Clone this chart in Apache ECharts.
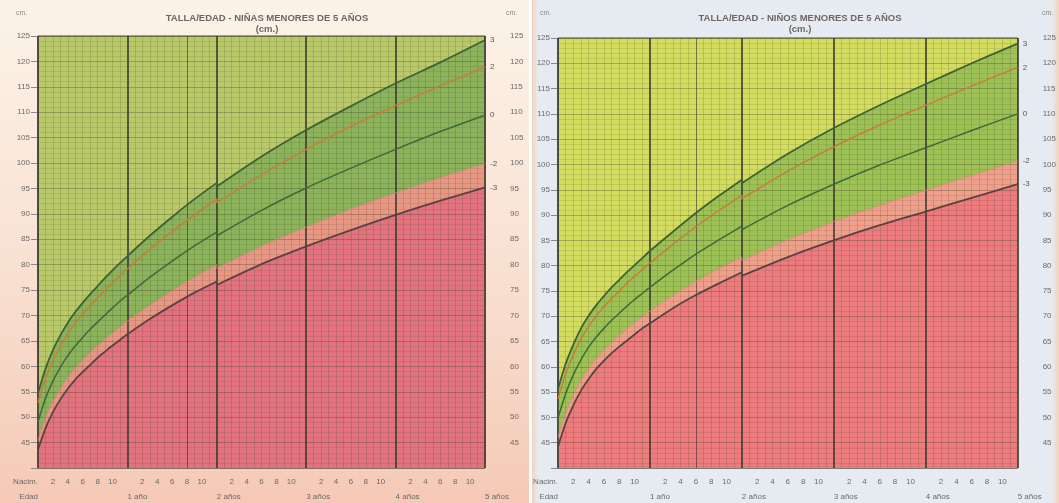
<!DOCTYPE html>
<html>
<head>
<meta charset="utf-8">
<script src="https://cdn.jsdelivr.net/npm/echarts@6/dist/echarts.min.js"></script>
<style>
html,body{margin:0;padding:0;width:1059px;height:503px;overflow:hidden;background:#fff;}
#pL{position:absolute;left:0;top:0;width:529px;height:503px;background:linear-gradient(to bottom,#fcf3e8 0%,#f9e2d3 50%,#f5c9b6 100%);}
#pR{position:absolute;left:532px;top:0;width:527px;height:503px;background:linear-gradient(to right,#f3d3bd 0px,#e6ebf1 6px,#e6ebf1 520px,#f1d2bc 527px);}
#main{position:absolute;left:0;top:0;width:1059px;height:503px;}
</style>
</head>
<body>
<div id="pL"></div><div id="pR"></div>
<div id="main"></div>
<script>
// ---- data (months, SD curves) ----
const months = [0,1,2,3,4,5,6,7,8,9,10,11,12,15,18,21,24,24,30,36,42,48,54,60];

const girlsMinus3 = [43.6,47.8,51.0,53.5,55.6,57.4,58.9,60.3,61.7,62.9,64.1,65.2,66.3,69.3,72.0,74.5,76.7,76.0,80.1,83.6,86.8,89.8,92.6,95.2];
const girlsMinus2 = [45.4,49.8,53.0,55.6,57.8,59.6,61.2,62.7,64.0,65.3,66.5,67.7,68.9,72.0,74.9,77.5,80.0,79.3,83.6,87.4,90.9,94.1,97.1,99.9];
const girlsMedian = [49.1,53.7,57.1,59.8,62.1,64.0,65.7,67.3,68.7,70.1,71.5,72.8,74.0,77.5,80.7,83.7,86.4,85.7,90.7,95.1,99.0,102.7,106.2,109.4];
const girlsPlus2  = [52.9,57.6,61.1,64.0,66.4,68.5,70.3,71.9,73.5,75.0,76.4,77.8,79.2,83.0,86.5,89.8,92.9,92.2,97.7,102.7,107.2,111.3,115.2,118.9];
const girlsPlus3  = [54.7,59.5,63.2,66.1,68.6,70.7,72.5,74.2,75.8,77.4,78.9,80.3,81.7,85.7,89.4,92.9,96.1,95.4,101.3,106.5,111.2,115.7,119.8,124.2];

const boysMinus3 = [44.2,48.9,52.4,55.3,57.6,59.6,61.2,62.7,64.0,65.2,66.4,67.6,68.6,71.6,74.2,76.5,78.7,78.0,81.7,85.0,88.0,90.7,93.4,96.1];
const boysMinus2 = [46.1,50.8,54.4,57.3,59.7,61.7,63.3,64.8,66.2,67.5,68.7,69.9,71.0,74.1,76.9,79.4,81.7,81.0,85.1,88.7,91.9,94.9,97.8,100.7];
const boysMedian = [49.9,54.7,58.4,61.4,63.9,65.9,67.6,69.2,70.6,72.0,73.3,74.5,75.7,79.1,82.3,85.1,87.8,87.1,91.9,96.1,99.9,103.3,106.7,110.0];
const boysPlus2  = [53.7,58.6,62.4,65.5,68.0,70.1,71.9,73.5,75.0,76.5,77.9,79.2,80.5,84.2,87.7,90.9,93.9,93.2,98.7,103.5,107.8,111.7,115.5,119.2];
const boysPlus3  = [55.6,60.6,64.4,67.6,70.1,72.2,74.0,75.7,77.2,78.7,80.1,81.5,82.9,86.7,90.4,93.8,97.0,96.3,102.1,107.2,111.7,115.9,120.0,123.9];

const sdLabels = ['3','2','0','-2','-3'];
const yearLabels = ['Edad','1 año','2 años','3 años','4 años','5 años'];
const titles = ['TALLA/EDAD - NIÑAS MENORES DE 5 AÑOS\n(cm.)','TALLA/EDAD - NIÑOS MENORES DE 5 AÑOS\n(cm.)'];
const unitLabel = 'cm.';
const foldMonths = [20, 18];

// ---- styles ----
const charts = [
  {curves:[girlsPlus3,girlsPlus2,girlsMedian,girlsMinus2,girlsMinus3],
   above:'#b9c969', band:'#8cb25c', salmon:'#e99785', red:'#e1727e',
   grid:{left:38,right:574,top:36,bottom:35}, titleX:262},
  {curves:[boysPlus3,boysPlus2,boysMedian,boysMinus2,boysMinus3],
   above:'#d3dc5f', band:'#9ec155', salmon:'#f0a08a', red:'#ed7a7c',
   grid:{left:558,right:39,top:38,bottom:35}, titleX:795}
];
const lineColors = ['#3f6134','#cc7a3a','#3d6a3a','#d98a7c','#5a4243'];
const lineWidths = [1.8,1.4,1.5,0.8,1.8];

const pts = arr => months.map((m,i)=>[m,arr[i]]);

const grids=[], xAxes=[], yAxes=[], series=[], title=[];
charts.forEach((c,gi)=>{
  grids.push(Object.assign({show:true, backgroundColor:c.above, borderColor:'#4a4a40', borderWidth:1}, c.grid));
  xAxes.push({gridIndex:gi, type:'value', min:0, max:60, interval:2, position:'bottom',
    axisLine:{show:false}, axisTick:{show:false}, splitLine:{show:false},
    axisLabel:{fontSize:8, color:'#6a6a6a', margin:10, fontFamily:'Liberation Sans',
      alignMinLabel:'right',
      formatter:v=> v===0 ? 'Nacim.' : (v%12===0 ? '' : String(v%12))}});
  xAxes.push({gridIndex:gi, type:'value', min:0, max:60, interval:12, position:'bottom', z:4,
    axisLine:{show:false}, axisTick:{show:false},
    splitLine:{show:true, lineStyle:{color:'#3b3a30', width:1.6}},
    minorTick:{show:false, splitNumber:12},
    minorSplitLine:{show:true, lineStyle:{color:'rgba(55,65,35,0.26)', width:0.7}},
    axisLabel:{fontSize:8, color:'#6a6a6a', margin:25, align:'left', alignMinLabel:'right', fontFamily:'Liberation Sans',
      formatter:v=> yearLabels[Math.round(v/12)]}});
  yAxes.push({gridIndex:gi, type:'value', min:40, max:125, interval:5, z:4,
    axisLine:{show:false}, axisTick:{show:false},
    splitLine:{show:true, lineStyle:{color:'rgba(50,55,30,0.38)', width:0.8}},
    minorTick:{show:false, splitNumber:5},
    minorSplitLine:{show:true, lineStyle:{color:'rgba(55,65,35,0.2)', width:0.6}},
    axisLabel:{fontSize:8, color:'#6a6a6a', margin:8, fontFamily:'Liberation Sans',
      formatter:v=> v===40 ? '' : String(v)}});
  yAxes.push({gridIndex:gi, type:'value', min:40, max:125, interval:5, position:'right', offset:20,
    axisLine:{show:true, lineStyle:{color:'#8a8a8a', width:1}},
    axisTick:{show:true, inside:true, length:7, lineStyle:{color:'#8a8a8a'}},
    splitLine:{show:false},
    axisLabel:{fontSize:8, color:'#6a6a6a', margin:5, fontFamily:'Liberation Sans',
      formatter:v=> v===40 ? '' : String(v)}});

  // filled bands
  const bandDefs = [[0,c.band],[3,c.salmon],[4,c.red]];
  bandDefs.forEach(([k,col])=>{
    series.push({type:'line', xAxisIndex:gi*2, yAxisIndex:gi*2, data:pts(c.curves[k]),
      smooth:0.25, showSymbol:false, silent:true, z:1,
      lineStyle:{width:0}, areaStyle:{color:col, opacity:1, origin:'start'}});
  });
  // curves
  c.curves.forEach((arr,k)=>{
    const s = {type:'line', xAxisIndex:gi*2, yAxisIndex:gi*2, data:pts(arr),
      smooth:0.25, showSymbol:false, silent:true, z:6,
      lineStyle:{color:lineColors[k], width:lineWidths[k]},
      endLabel:{show:true, formatter:()=>sdLabels[k], distance:5, fontSize:8, color:'#555', fontFamily:'Liberation Sans'}};
    if(k===0){
      s.markLine = {symbol:'none', silent:true, label:{show:false}, animation:false,
        lineStyle:{color:'rgba(50,40,40,0.5)', width:1, type:'solid'},
        data:[{xAxis:foldMonths[gi]}]};
    }
    series.push(s);
  });

  title.push({text:titles[gi], left:c.titleX, top:8, textAlign:'center',
    textStyle:{fontSize:9.5, fontWeight:'bold', color:'#6f6565', lineHeight:11, fontFamily:'Liberation Sans'}});
});

const chart = echarts.init(document.getElementById('main'), null, {renderer:'canvas'});
chart.setOption({
  animation:false,
  backgroundColor:'transparent',
  title:title,
  grid:grids, xAxis:xAxes, yAxis:yAxes, series:series,
  graphic:[
    {type:'text', left:16, top:10, style:{text:unitLabel, fontSize:7, fill:'#888', fontFamily:'Liberation Sans'}},
    {type:'text', left:506, top:10, style:{text:unitLabel, fontSize:7, fill:'#888', fontFamily:'Liberation Sans'}},
    {type:'text', left:540, top:10, style:{text:unitLabel, fontSize:7, fill:'#888', fontFamily:'Liberation Sans'}},
    {type:'text', left:1042, top:10, style:{text:unitLabel, fontSize:7, fill:'#888', fontFamily:'Liberation Sans'}}
  ]
});
</script>
</body>
</html>
